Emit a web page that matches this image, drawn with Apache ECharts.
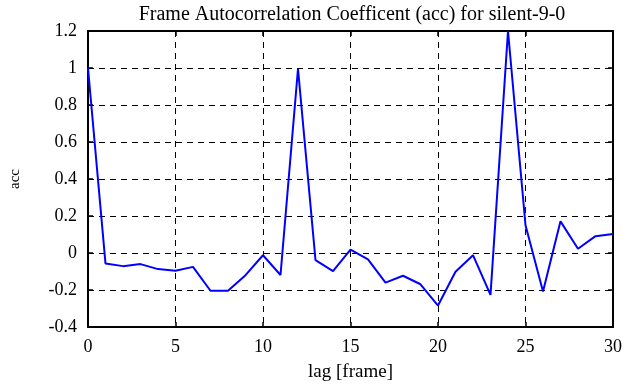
<!DOCTYPE html>
<html>
<head>
<meta charset="utf-8">
<script src="https://cdn.jsdelivr.net/npm/echarts@6/dist/echarts.min.js"></script>
<style>
  html, body { margin: 0; padding: 0; background: #fff; }
  #chart { width: 625px; height: 387px; }
</style>
</head>
<body>
<div id="chart"></div>
<script>
// lag 0..30 and the autocorrelation
const lags = [0, 1, 2, 3, 4, 5, 6, 7, 8, 9, 10, 11, 12, 13, 14, 15,
  16, 17, 18, 19, 20, 21, 22, 23, 24, 25, 26, 27, 28, 29, 30]
const acc = [1.0, -0.057, -0.071, -0.06, -0.087, -0.096, -0.075, -0.204, -0.204, -0.12, -0.012,
  -0.119, 0.996, -0.039, -0.098, 0.018, -0.034, -0.16, -0.123, -0.169, -0.284,
  -0.101, -0.012, -0.226, 1.2, 0.15, -0.208, 0.171, 0.023, 0.091, 0.103]

const titleText = 'Frame Autocorrelation Coefficent (acc) for silent-9-0'
const xName = 'lag [frame]'
const yName = 'acc'

const font = 'Liberation Serif'
const chart = echarts.init(document.getElementById('chart'))

// common axis look: black frame, ticks pointing in
const frame = { show: true, onZero: false, lineStyle: { color: '#000', width: 2 } }
const inTicks = { show: true, inside: true, length: 5, lineStyle: { color: '#000', width: 1.5 } }
const dashed = { show: true, lineStyle: { color: '#000', type: [6, 5], width: 1 } }

const option = {
  animation: false,
  title: {
    text: titleText,
    left: 347,
    textAlign: 'center',
    top: 0,
    textStyle: { fontFamily: font, fontWeight: 'normal', fontSize: 20, color: '#000' }
  },
  grid: { left: 85, right: 12, top: 31, bottom: 55, containLabel: false },
  xAxis: [{
    type: 'value',
    min: 0,
    max: 30,
    interval: 5,
    name: xName,
    nameLocation: 'middle',
    nameGap: 36,
    nameTextStyle: { fontFamily: font, fontSize: 19, color: '#000' },
    axisLine: frame,
    axisTick: inTicks,
    splitLine: dashed,
    axisLabel: { fontFamily: font, fontSize: 18, color: '#000', margin: 11 }
  }, {
    type: 'value',
    position: 'top',
    min: 0,
    max: 30,
    interval: 5,
    axisLine: frame,
    axisTick: inTicks,
    splitLine: { show: false },
    axisLabel: { show: false }
  }],
  yAxis: [{
    type: 'value',
    min: -0.4,
    max: 1.2,
    interval: 0.2,
    name: yName,
    nameLocation: 'middle',
    nameGap: 65,
    nameTextStyle: { fontFamily: font, fontSize: 15, color: '#000' },
    axisLine: frame,
    axisTick: inTicks,
    splitLine: dashed,
    axisLabel: {
      fontFamily: font, fontSize: 18, color: '#000', margin: 11,
      formatter: v => String(Math.round(v * 10) / 10)
    }
  }, {
    type: 'value',
    position: 'right',
    min: -0.4,
    max: 1.2,
    interval: 0.2,
    axisLine: frame,
    axisTick: inTicks,
    splitLine: { show: false },
    axisLabel: { show: false }
  }],
  series: [{
    type: 'line',
    data: lags.map((l, i) => [l, acc[i]]),
    showSymbol: false,
    clip: false,
    lineStyle: { color: '#0000ff', width: 2 }
  }]
}
chart.setOption(option)
</script>
</body>
</html>
